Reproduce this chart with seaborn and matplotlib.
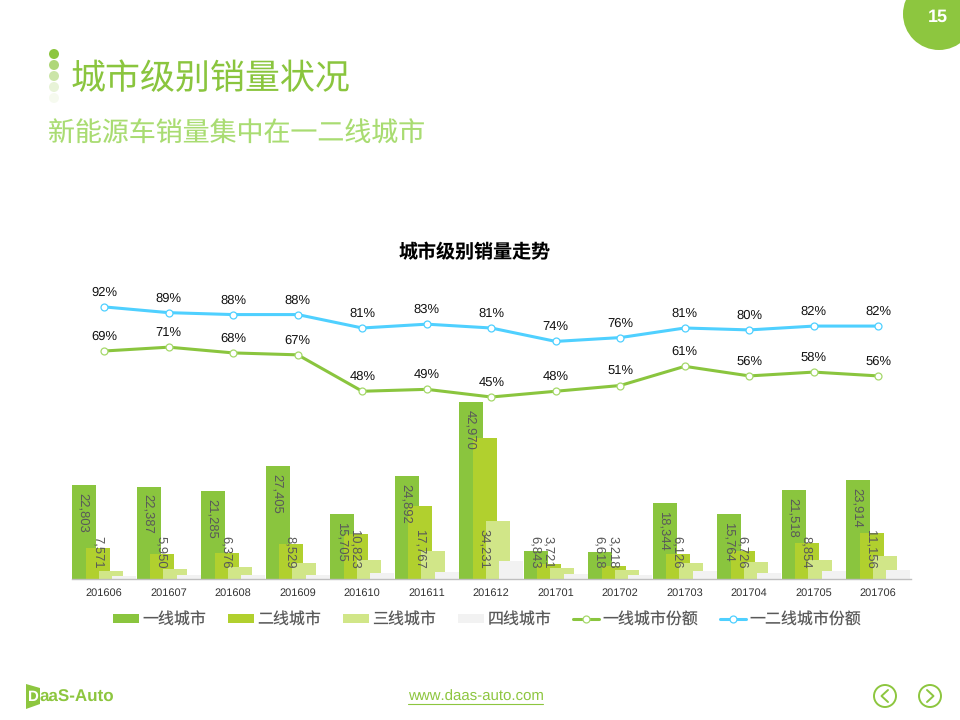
import numpy as np
import pandas as pd
import matplotlib
matplotlib.use("Agg")
import matplotlib.pyplot as plt
from matplotlib.lines import Line2D
from matplotlib.patches import Patch, Circle, Polygon
import seaborn as sns

months = ["201606", "201607", "201608", "201609", "201610", "201611", "201612",
          "201701", "201702", "201703", "201704", "201705", "201706"]
tier1 = [22803, 22387, 21285, 27405, 15705, 24892, 42970, 6843, 6618, 18344, 15764, 21518, 23914]
tier2 = [7571, 5950, 6376, 8529, 10823, 17767, 34231, 3721, 3218, 6126, 6726, 8854, 11156]
tier3 = [2000, 2500, 3000, 4000, 4700, 6900, 14200, 2750, 2270, 4000, 4200, 4700, 5670]
tier4 = [800, 1050, 1050, 1050, 1540, 1800, 4450, 1300, 1050, 2000, 1540, 2000, 2270]
share1 = [69, 71, 68, 67, 48, 49, 45, 48, 51, 61, 56, 58, 56]
share12 = [92, 89, 88, 88, 81, 83, 81, 74, 76, 81, 80, 82, 82]
bar_names = ["一线城市", "二线城市", "三线城市", "四线城市"]
line_names = ["一线城市份额", "一二线城市份额"]

GREEN = "#8AC53E"; LIME = "#B1D02E"; PALE = "#D1E688"; GREY = "#F2F2F2"; CYAN = "#4FD0FF"
CJK = ["Noto Sans CJK SC", "DejaVu Sans"]
LAT = ["Liberation Sans", "DejaVu Sans"]

sns.set_theme(style="white")
plt.rcParams["font.family"] = CJK
plt.rcParams["text.hinting"] = "none"
plt.rcParams["text.hinting_factor"] = 1
W, H = 960, 720
fig = plt.figure(figsize=(W / 100, H / 100), dpi=100, facecolor="white")

def px_axes(l, r, top, bottom):
    return fig.add_axes([l / W, 1 - bottom / H, (r - l) / W, (bottom - top) / H])

L, R, TOP, BASE = 72, 910.5, 280, 579
ax = px_axes(L, R, TOP, BASE)
ax.set_facecolor("none")
x = np.arange(len(months))
bw, sp = 0.372, 0.209
df = pd.DataFrame({"m": x, "t1": tier1, "t2": tier2, "t3": tier3, "t4": tier4})
for i, (col, c) in enumerate(zip(["t1", "t2", "t3", "t4"], [GREEN, LIME, PALE, GREY])):
    sns.barplot(data=df.assign(pos=x + (i - 1.5) * sp), x="pos", y=col, native_scale=True,
                width=bw, color=c, saturation=1, linewidth=0, errorbar=None, ax=ax, zorder=2 + i)
ax.set_xlim(-0.5, 12.5)
ymax = (BASE - TOP) / 0.004119
ax.set_ylim(0, ymax)
ax.set_xlabel(""); ax.set_ylabel("")
ax.set_xticks(x)
ax.set_xticklabels(months, fontsize=7.7, color="#333333", family=LAT)
ax.tick_params(axis="x", length=0, pad=6.2)
ax.set_yticks([])
for s in ["top", "left", "right"]:
    ax.spines[s].set_visible(False)
ax.spines["bottom"].set_color("#BFBFBF")
ax.spines["bottom"].set_linewidth(1.0)
ax.spines["bottom"].set_zorder(10)

def barlabel(xp, v, top_first):
    txt = f"{v:,}"
    h = v * 0.004119
    need = len(txt) * 6.5 + 19
    if top_first and h > need:
        off, va = -7.5 * 0.72, "top"
        yp = v
    else:
        off, va = 10 * 0.72, "bottom"
        yp = 0
    ax.annotate(txt, (xp, yp), xytext=(-0.3, off), textcoords="offset points", rotation=270,
                ha="center", va=va, fontsize=9.2, color="#595959", family=LAT, zorder=20)

for i in x:
    barlabel(i - 1.5 * sp, tier1[i], True)
    barlabel(i - 0.5 * sp, tier2[i], False)

# share lines on a secondary axis
ax2 = ax.twinx()
ax2.set_facecolor("none")
pp = 1.917
ax2.set_ylim(69 - (BASE - 351) / pp, 69 + (351 - TOP) / pp)
ax2.set_yticks([])
for s in ax2.spines.values():
    s.set_visible(False)
for vals, c, ec in [(share1, GREEN, "#A5D86A"), (share12, CYAN, CYAN)]:
    sns.lineplot(x=x, y=vals, color=c, linewidth=2.2, marker="o", markersize=5,
                 markerfacecolor="white", markeredgecolor=ec, markeredgewidth=0.9,
                 errorbar=None, ax=ax2, zorder=5)
    for i, v in zip(x, vals):
        ax2.annotate(f"{v}%", (i, v), xytext=(0, 14.5 * 0.72), textcoords="offset points",
                     ha="center", va="center", fontsize=9.2, color="#111111", family=LAT)
ax2.set_ylabel("")
ax2.set_xlim(-0.5, 12.5)

# legend
handles = [Patch(facecolor=c, edgecolor="none") for c in [GREEN, LIME, PALE, GREY]]
handles += [Line2D([], [], color=GREEN, lw=2.2, marker="o", ms=5, mfc="white", mec="#A5D86A", mew=0.9),
            Line2D([], [], color=CYAN, lw=2.2, marker="o", ms=5, mfc="white", mec=CYAN, mew=0.9)]
leg = fig.legend(handles, bar_names + line_names, ncols=6, loc="center",
                 bbox_to_anchor=(487 / W, 1 - 619.5 / H), frameon=False, fontsize=11.5,
                 handlelength=1.65, handleheight=0.5, handletextpad=0.2, columnspacing=1.35,
                 borderpad=0, labelcolor="#595959")

# page decoration in pixel coordinates
deco = fig.add_axes([0, 0, 1, 1], zorder=30)
deco.set_xlim(0, W); deco.set_ylim(H, 0); deco.axis("off"); deco.patch.set_alpha(0)
deco.add_patch(Circle((939, 14), 36, fc="#8DC63F", ec="none"))
deco.text(937.5, 17, "15", color="white", fontsize=13.2, fontweight="bold", family=LAT, ha="center", va="center")
for yy, a in zip([54, 65, 76, 87, 98], [1, .7, .45, .2, .08]):
    deco.add_patch(Circle((54, yy), 5, fc="#8DC63F", ec="none", alpha=a))
deco.text(71, 79, "城市级别销量状况", color="#8AC53E", fontsize=25.2, ha="left", va="center")
deco.text(48, 134, "新能源车销量集中在一二线城市", color="#A9DC72", fontsize=19.4, ha="left", va="center")
deco.text(475, 252.5, "城市级别销量走势", color="black", fontsize=13.7, fontweight="bold", ha="center", va="center")
deco.text(475.5, 697, "www.daas-auto.com", color="#8DC63F", fontsize=10.5, family=LAT, ha="center", va="center")
deco.plot([408, 543], [703.5, 703.5], color="#8DC63F", lw=0.8)
deco.add_patch(Polygon([(26, 684), (40, 688), (40, 704), (26, 709)], fc="#8DC63F", ec="none"))
deco.text(33, 697.5, "D", color="white", fontsize=11, fontweight="bold", family=LAT, ha="center", va="center")
deco.text(40, 697.5, "aaS-Auto", color="#8DC63F", fontsize=12, fontweight="bold", family=LAT, ha="left", va="center")
for cx, d in [(885, -1), (930, 1)]:
    deco.add_patch(Circle((cx, 696), 11, fc="none", ec="#8DC63F", lw=1.4))
    deco.plot([cx - d * 3, cx + d * 3.5, cx - d * 3], [690, 696, 702], color="#8DC63F", lw=1.4)

fig.savefig("out.png", dpi=100)
